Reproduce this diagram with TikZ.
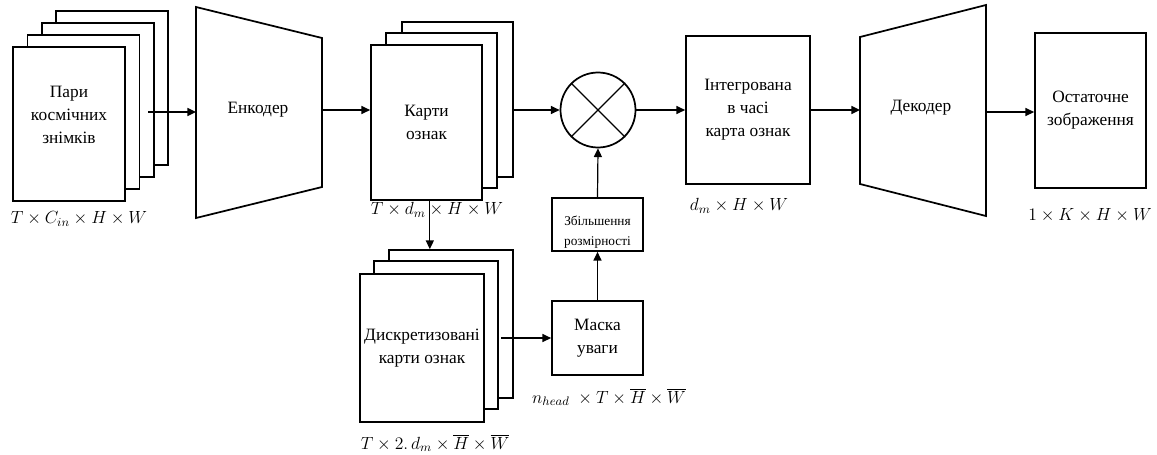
\RequirePackage{fix-cm}
\documentclass[tikz,border=0pt]{standalone}
\usepackage{fontspec}
\setmainfont{Liberation Serif}
\usepackage{tikz}
\usetikzlibrary{arrows.meta}

\tikzset{
   sheet/.style={draw, line width=1.3pt, fill=white, inner sep=0pt,
      align=center, font=\fontsize{13}{17.25}\selectfont},
   dims/.style={font=\fontsize{13.2}{15}\selectfont, inner sep=0pt},
   link/.style={line width=1.1pt, -{Triangle[length=6.5pt, width=6pt]}}
}

\begin{document}
\begin{tikzpicture}[x=0.75pt, y=-0.75pt]
   \useasboundingbox (0,0) rectangle (1157,454);

   \node (i4) at (112,88) [sheet, minimum width=84pt, minimum height=116pt] {};
   \node (i3) at (98,100) [sheet, minimum width=84pt, minimum height=116pt] {};
   \node (i2) at (83.5,112) [sheet, minimum width=84pt, minimum height=116pt] {};
   \node (i1) at (69,124) [sheet, minimum width=84pt, minimum height=116pt] {};
   \node (i-txt) at (69,115) [align=center, font=\fontsize{13}{17.25}\selectfont]
      {Пари\\космічних\\знімків};
   \node (i-dim) at (79,219) [dims] {$T \times C_{in} \times H \times W$};
   \coordinate (i-out) at (148,112);

   \draw [line width=1.3pt] (196,7) -- (322,38) -- (322,187) -- (196,218) -- cycle;
   \node (enc) at (258,110) [font=\fontsize{13}{17.25}\selectfont] {Енкодер};
   \coordinate (enc-in) at (196,112);
   \coordinate (enc-out) at (322,110);

   \node (f3) at (457.5,99.5) [sheet, minimum width=83.25pt, minimum height=116pt] {};
   \node (f2) at (441.5,110.5) [sheet, minimum width=83.25pt, minimum height=116pt] {};
   \node (f1) at (426.5,122.5) [sheet, minimum width=83.25pt, minimum height=116pt]
      {Карти\\ознак};
   \node (f-dim) at (437,210) [dims] {$T \times d_m \times H \times W$};

   \node (mul) at (598,110) [circle, draw, line width=1.3pt, minimum size=56.25pt,
      inner sep=0pt] {};
   \draw [line width=0.9pt] (mul.north west) -- (mul.south east);
   \draw [line width=0.9pt] (mul.north east) -- (mul.south west);

   \node (int) at (748,110) [sheet, minimum width=93pt, minimum height=111pt]
      {Інтегрована\\в часі\\карта ознак};
   \node (int-dim) at (739,206) [dims] {$d_m \times H \times W$};

   \draw [line width=1.3pt] (860,37) -- (986,5) -- (986,216) -- (860,184) -- cycle;
   \node (dec) at (921,108) [font=\fontsize{13}{17.25}\selectfont] {Декодер};
   \coordinate (dec-in) at (860,110);
   \coordinate (dec-out) at (986,112);

   \node (out) at (1090.5,110.5) [sheet, minimum width=83.25pt, minimum height=116pt]
      {Остаточне\\зображення};
   \node (out-dim) at (1090,215) [dims] {$1 \times K \times H \times W$};

   \node (up) at (597.5,224.5) [sheet, minimum width=68.25pt, minimum height=39.75pt] {};
   \node (up-txt) at (597.5,232) [align=center, font=\fontsize{10}{15}\selectfont]
      {Збільшення\\розмірності};
   \node (mask) at (597.5,338) [sheet, minimum width=68.25pt, minimum height=55.5pt]
      {Маска\\уваги};
   \node (mask-dim) at (609,397) [dims]
      {$n_{head}\;\times T \times \overline{H} \times \overline{W}$};

   \node (d3) at (451,324) [sheet, minimum width=93pt, minimum height=111pt] {};
   \node (d2) at (436,335) [sheet, minimum width=93pt, minimum height=111pt] {};
   \node (d1) at (422,348) [sheet, minimum width=93pt, minimum height=111pt]
      {Дискретизовані\\карти ознак};
   \node (d-dim) at (435,443) [dims]
      {$T \times 2.\,d_m \times \overline{H} \times \overline{W}$};
   \coordinate (d-out) at (501,338);

   \draw [link] (i-out) -- (enc-in);
   \draw [link] (enc-out) -- (f1.west |- enc-out);
   \draw [link] (f3.east |- mul.west) -- (mul.west);
   \draw [link] (mul.east) -- (int.west);
   \draw [link] (int.east) -- (dec-in);
   \draw [link] (dec-out) -- (out.west |- dec-out);
   \draw [link, line width=0.8pt] ([xshift=2.5pt]f1.south) -- ([xshift=2.5pt]f1.south |- d3.north);
   \draw [link] (d-out) -- (mask.west);
   \draw [link, line width=0.9pt] (mask.north) -- (up.south);
   \draw [link, line width=0.9pt] (up.north) -- (mul.south);
\end{tikzpicture}
\end{document}
